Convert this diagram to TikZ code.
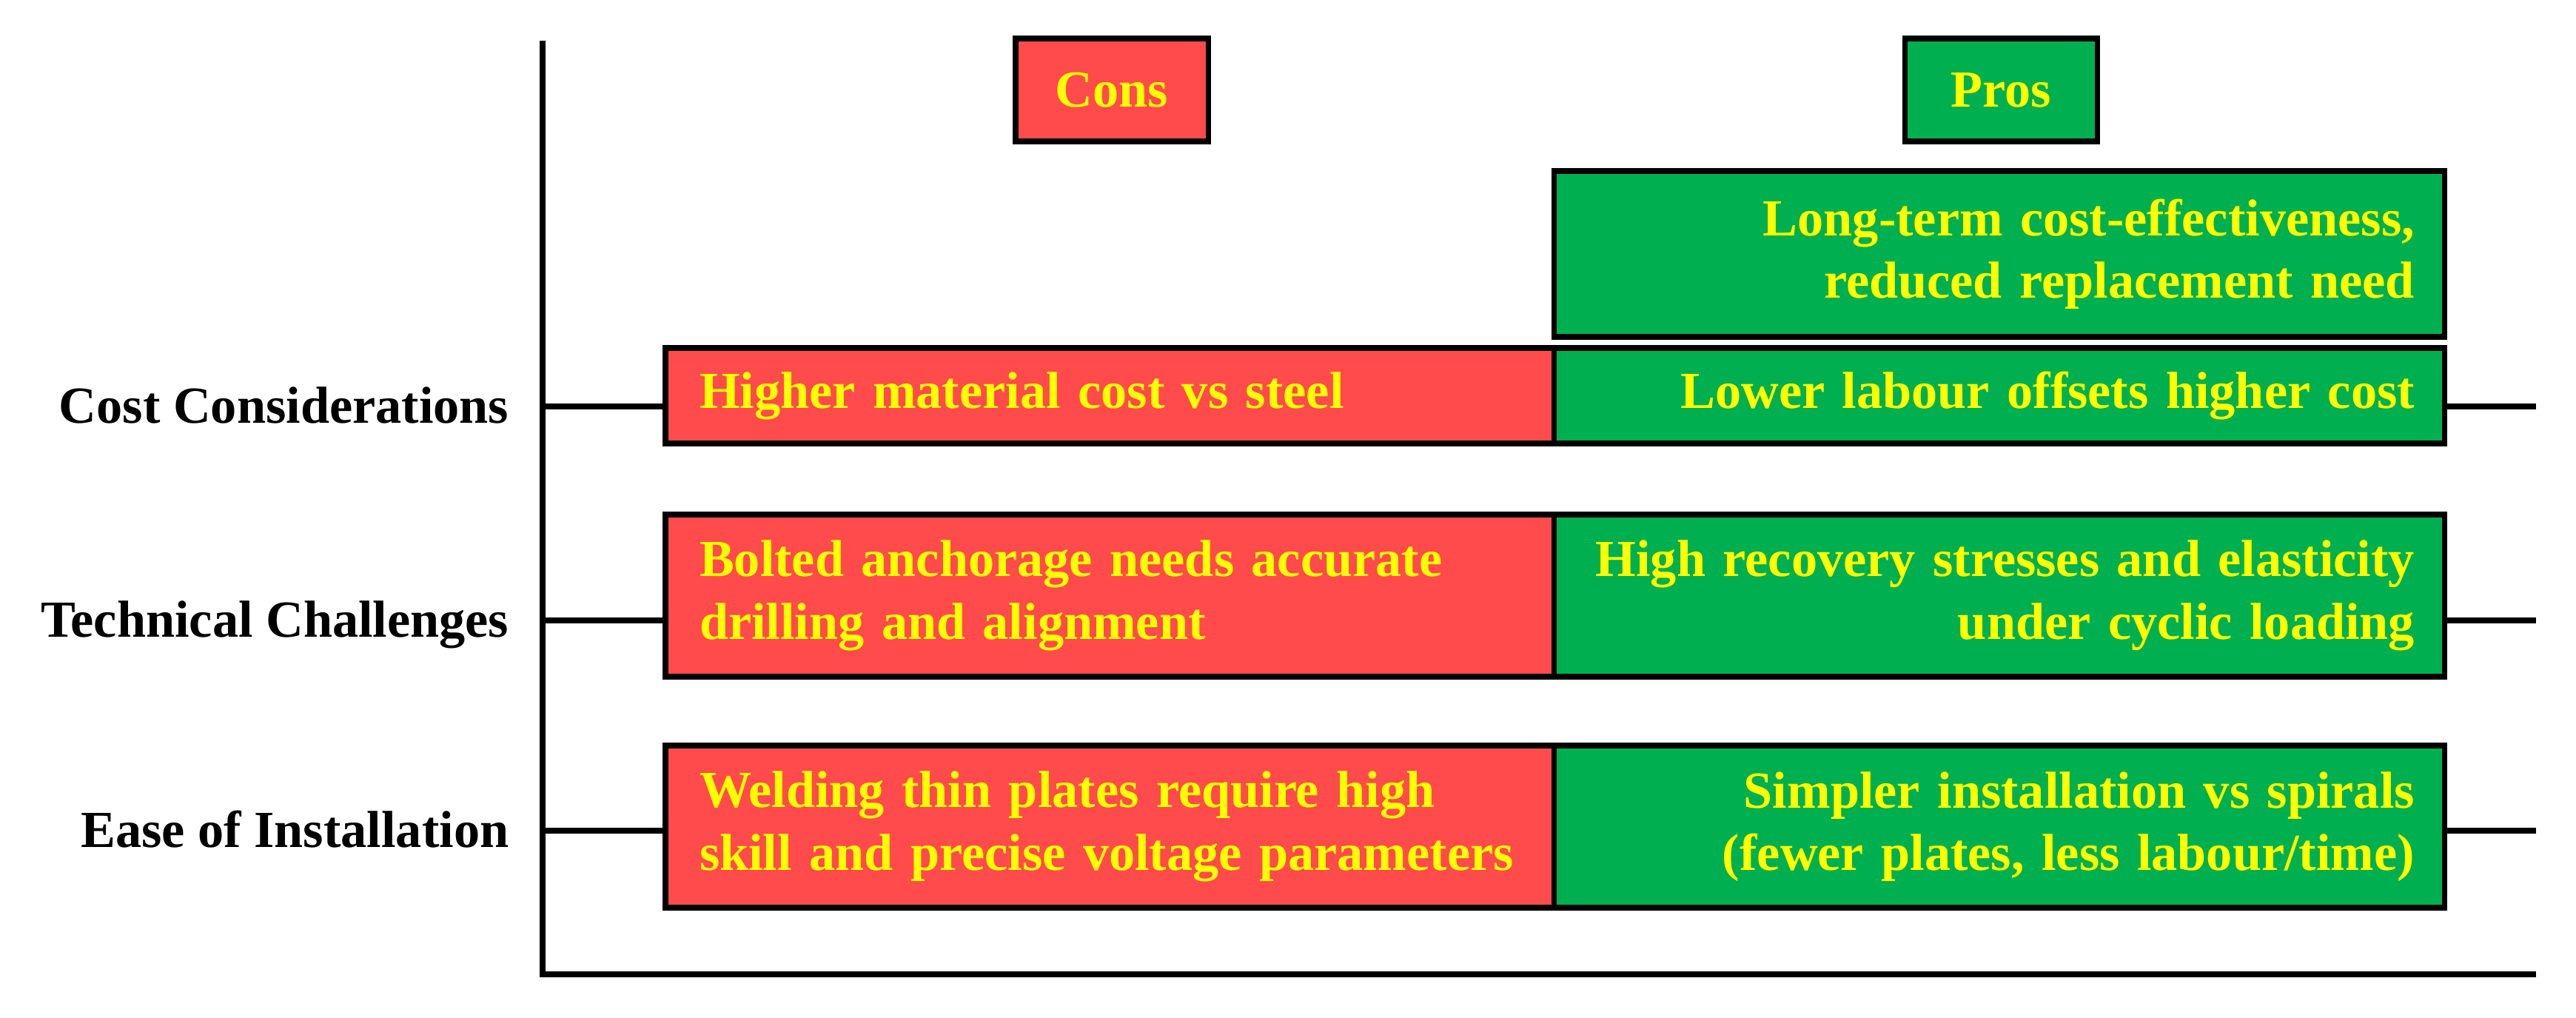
\documentclass[tikz,border=0pt]{standalone}
\usepackage{fontspec}
\setmainfont{Liberation Serif}
\usepackage{xcolor}
\usepackage{tikz}

\definecolor{consred}{RGB}{255,75,75}
\definecolor{prosgreen}{RGB}{0,176,80}
\definecolor{txtyellow}{RGB}{255,255,0}

\begin{document}
\begin{tikzpicture}[
  every node/.style={font=\fontsize{20}{24}\selectfont\bfseries},
  axis/.style={line width=2pt},
  consbox/.style={draw,line width=2pt,fill=consred,text=txtyellow,inner xsep=0.46cm,text width=11.08cm,align=left},
  prosbox/.style={draw,line width=2pt,fill=prosgreen,text=txtyellow,inner xsep=0.4cm,text width=11.23cm,align=right},
  headbox/.style={draw,line width=2pt,text=txtyellow,minimum width=2.6cm,minimum height=1.39cm},
  category/.style={anchor=base east,inner sep=0pt}
]
\useasboundingbox (0,0) rectangle (34.8,-13.75);

% axes
\coordinate (axtop) at (7.33,-0.55);
\coordinate (axend) at (34.26,-13.16);
\draw[axis] (axtop) |- (axend);

% headers
\node[headbox,fill=consred] (conshead) at (15.02,-1.215) {Cons};
\node[headbox,fill=prosgreen] (proshead) at (27.03,-1.215) {Pros};

% cost considerations
\node[prosbox,minimum height=2.24cm] (cost2) at (27.005,-3.43) {Long-term cost-effectiveness,\\reduced replacement need};
\node[consbox,minimum height=1.29cm] (cons1) at (14.99,-5.345) {Higher material cost vs steel};
\node[prosbox,minimum height=1.29cm] (pros1) at (27.005,-5.345) {Lower labour offsets higher cost};

% technical challenges
\node[consbox,minimum height=2.19cm] (cons2) at (14.99,-8.045) {Bolted anchorage needs accurate\\drilling and alignment};
\node[prosbox,minimum height=2.19cm] (pros2) at (27.005,-8.045) {High recovery stresses and elasticity\\under cyclic loading};

% ease of installation
\node[consbox,minimum height=2.19cm] (cons3) at (14.99,-11.165) {Welding thin plates require high\\skill and precise voltage parameters};
\node[prosbox,minimum height=2.19cm] (pros3) at (27.005,-11.165) {Simpler installation vs spirals\\(fewer plates, less labour/time)};

% category ticks
\coordinate (tick1) at (7.33,-5.49);
\coordinate (tick2) at (7.33,-8.38);
\coordinate (tick3) at (7.33,-11.22);

\node[category] (cat1) at (6.88,-5.72) {Cost Considerations};
\node[category] (cat2) at (6.88,-8.61) {Technical Challenges};
\node[category] (cat3) at (6.88,-11.45) {Ease of Installation};

\draw[axis] (tick1) -- (cons1.west |- tick1);
\draw[axis] (tick2) -- (cons2.west |- tick2);
\draw[axis] (tick3) -- (cons3.west |- tick3);
\draw[axis] (pros1.east |- tick1) -- (tick1 -| axend);
\draw[axis] (pros2.east |- tick2) -- (tick2 -| axend);
\draw[axis] (pros3.east |- tick3) -- (tick3 -| axend);
\end{tikzpicture}
\end{document}
